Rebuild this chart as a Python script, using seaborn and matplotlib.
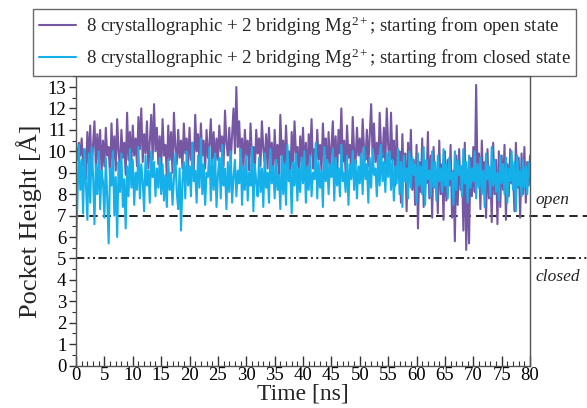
import numpy as np
import pandas as pd
import matplotlib
matplotlib.use("Agg")
import matplotlib.pyplot as plt
import seaborn as sns
from matplotlib.ticker import MultipleLocator

open_state = [
    10.2, 9.6, 10.4, 9.8, 10.6, 9.3, 10.1, 8.7, 10.9, 9.4, 11.2, 8.9, 10.3, 11.4, 9.2, 10.8, 9.6, 11.0, 9.0, 10.5,
    9.3, 11.1, 9.8, 10.2, 8.8, 11.3, 9.5, 10.7, 9.1, 11.5, 10.0, 9.2, 11.0, 9.7, 10.4, 8.9, 11.8, 9.6, 10.9, 9.4,
    11.2, 9.8, 10.6, 9.3, 11.6, 10.1, 12.0, 9.5, 10.8, 9.9, 11.4, 9.2, 10.5, 11.7, 9.6, 12.2, 10.0, 11.1, 9.4, 10.7,
    9.1, 11.5, 9.8, 10.3, 8.8, 11.2, 9.6, 10.9, 9.0, 11.8, 10.2, 9.4, 11.0, 9.7, 10.5, 9.2, 11.3, 9.9, 10.6, 9.3,
    11.1, 9.6, 10.4, 9.1, 11.7, 10.0, 10.8, 9.4, 11.3, 9.8, 10.5, 9.2, 11.0, 9.7, 10.3, 11.5, 9.5, 10.9, 9.3, 10.6,
    9.6, 11.2, 10.0, 10.7, 9.3, 11.9, 10.4, 9.8, 11.1, 9.5, 10.8, 12.0, 9.9, 13.0, 10.2, 11.4, 9.7, 10.6, 9.2, 11.0,
    9.8, 10.5, 9.1, 11.3, 9.7, 10.2, 9.0, 11.0, 9.9, 10.6, 9.3, 11.4, 10.1, 9.5, 10.8, 9.2, 11.1, 9.6, 10.4, 8.9,
    11.0, 9.4, 10.3, 8.7, 11.7, 9.8, 10.5, 9.1, 11.2, 9.6, 10.0, 8.6, 10.9, 9.3, 11.4, 9.9, 10.2, 8.8, 10.7, 9.5,
    11.1, 9.0, 10.4, 8.6, 10.8, 9.7, 11.5, 9.2, 10.1, 8.9, 11.0, 9.6, 10.3, 9.1, 11.3, 9.8, 10.6, 8.7, 10.9, 9.4,
    10.2, 11.4, 9.3, 10.7, 8.8, 11.0, 9.9, 12.0, 9.5, 10.5, 9.0, 11.2, 9.7, 10.3, 8.9, 11.6, 10.0, 9.4, 11.1, 9.8,
    10.6, 9.2, 11.5, 10.1, 9.6, 11.0, 9.3, 10.7, 12.2, 9.9, 11.3, 9.5, 10.4, 9.0, 11.8, 10.2, 9.7, 11.1, 9.4, 12.0,
    10.3, 9.1, 11.8, 9.6, 10.5, 8.4, 11.2, 9.0, 10.0, 7.6, 10.8, 8.7, 9.9, 7.2, 10.4, 8.9, 11.0, 8.2, 9.6, 7.5,
    10.3, 6.4, 9.5, 8.1, 10.6, 7.4, 9.2, 8.5, 10.9, 7.8, 9.8, 6.9, 10.2, 8.3, 9.0, 7.1, 10.5, 8.0, 9.4, 6.8,
    10.0, 7.7, 9.6, 8.4, 10.3, 6.9, 9.1, 5.8, 9.8, 7.5, 10.1, 8.2, 9.3, 6.3, 10.4, 5.4, 9.0, 5.7, 9.7, 7.9,
    10.2, 8.1, 13.1, 8.6, 9.9, 7.3, 10.5, 8.4, 9.5, 6.9, 10.1, 7.8, 9.2, 6.7, 10.4, 8.0, 9.6, 6.6, 10.0, 7.4,
    9.8, 8.2, 10.3, 6.8, 9.4, 7.9, 10.1, 8.5, 9.0, 7.2, 10.4, 8.3, 9.7, 6.9, 9.9, 8.0, 10.2, 7.6, 9.5, 8.4, 9.8,
]
closed_state = [
    5.1, 7.8, 10.3, 8.2, 9.6, 7.1, 10.1, 8.5, 6.8, 9.9, 7.6, 10.2, 8.9, 6.6, 9.4, 8.0, 10.0, 7.3, 9.1, 8.6,
    6.9, 9.7, 7.8, 5.7, 9.2, 8.4, 10.0, 7.0, 8.8, 6.0, 9.5, 8.1, 9.9, 7.4, 8.7, 6.4, 9.3, 7.9, 10.1, 8.3,
    9.6, 7.5, 9.0, 8.2, 10.2, 7.8, 9.4, 8.6, 7.2, 9.8, 8.4, 9.1, 7.6, 10.0, 8.8, 9.5, 7.9, 9.2, 8.3, 9.7,
    8.0, 9.4, 7.7, 8.9, 7.4, 9.6, 8.2, 9.0, 7.5, 8.7, 9.9, 8.1, 7.3, 9.2, 6.3, 8.6, 9.5, 7.8, 10.0, 8.4,
    9.3, 7.9, 10.4, 8.6, 9.1, 7.6, 9.8, 8.3, 10.6, 8.0, 9.4, 7.5, 9.0, 8.8, 10.2, 7.7, 9.6, 8.2, 9.9, 7.4,
    8.9, 9.7, 7.8, 10.3, 8.4, 9.2, 7.3, 9.5, 8.1, 10.0, 7.6, 8.8, 9.6, 7.9, 9.1, 8.5, 10.1, 7.5, 9.3, 8.2,
    9.8, 7.7, 9.0, 8.4, 10.2, 7.2, 9.4, 8.6, 7.9, 9.7, 8.1, 9.2, 7.4, 9.9, 8.3, 9.0, 7.6, 10.1, 8.5, 9.3,
    7.8, 9.6, 8.2, 8.9, 7.3, 9.8, 8.0, 9.4, 7.5, 10.3, 8.6, 9.1, 7.1, 9.5, 8.4, 9.9, 7.7, 9.2, 8.1, 9.7,
    8.5, 10.0, 7.6, 9.3, 8.2, 9.8, 7.9, 9.0, 8.7, 10.4, 7.8, 9.5, 8.3, 9.1, 7.4, 10.2, 8.6, 9.6, 8.0, 9.4,
    8.8, 10.1, 7.7, 9.7, 8.4, 9.2, 7.9, 10.3, 8.6, 9.0, 8.1, 9.8, 7.5, 9.4, 8.7, 10.0, 8.2, 9.6, 7.8, 9.3,
    8.5, 9.9, 8.0, 10.2, 8.7, 9.4, 7.6, 9.7, 8.3, 10.1, 8.9, 9.2, 7.9, 9.8, 8.4, 10.3, 8.6, 9.5, 8.1, 9.9,
    8.8, 10.0, 8.2, 9.6, 7.7, 9.3, 8.5, 10.1, 8.0, 9.5, 7.4, 9.8, 8.6, 9.2, 7.8, 10.0, 8.3, 9.7, 8.9, 9.4,
    7.6, 9.9, 8.4, 9.3, 8.0, 10.2, 7.5, 9.6, 8.7, 9.1, 7.9, 10.0, 8.3, 9.5, 7.7, 9.8, 8.6, 9.2, 8.1, 10.1,
    8.4, 9.4, 7.8, 9.7, 8.7, 9.0, 7.5, 10.0, 8.2, 9.6, 8.9, 9.3, 7.9, 10.1, 8.5, 9.5, 7.6, 9.8, 8.3, 9.2,
    8.6, 10.0, 7.8, 9.4, 8.3, 9.7, 8.0, 9.1, 7.4, 9.9, 8.7, 9.3, 7.9, 10.2, 8.4, 9.6, 8.1, 9.0, 7.7, 9.8,
    8.5, 9.4, 8.0, 9.7, 7.6, 9.2, 8.6, 10.0, 8.2, 9.5, 7.2, 9.8, 8.4, 9.1, 7.9, 9.6, 8.3, 9.3, 8.0, 9.5, 8.8,
]
time_open = np.linspace(0, 80, len(open_state))
time_closed = np.linspace(0, 80, len(closed_state))

state_levels = [7, 5]
state_labels = ["open", "closed"]

label_open = "8 crystallographic + 2 bridging Mg$^{2+}$; starting from open state"
label_closed = "8 crystallographic + 2 bridging Mg$^{2+}$; starting from closed state"

sns.set_theme(style="ticks")
plt.rcParams["font.family"] = ["Liberation Serif", "DejaVu Serif"]
plt.rcParams["mathtext.fontset"] = "custom"
plt.rcParams["mathtext.rm"] = "Liberation Serif"
plt.rcParams["mathtext.it"] = "Liberation Serif:italic"

fig = plt.figure(figsize=(5.87, 4.08), dpi=100)
ax = fig.add_axes([0.1295, 0.104, 0.7735, 0.709])

df_open = pd.DataFrame({"t": time_open, "h": open_state})
df_closed = pd.DataFrame({"t": time_closed, "h": closed_state})

purple = "#7657a3"
cyan = "#15b0ea"
sns.lineplot(data=df_open, x="t", y="h", ax=ax, color=purple, lw=1.5,
             label=label_open, estimator=None, sort=False)
sns.lineplot(data=df_closed, x="t", y="h", ax=ax, color=cyan, lw=1.5,
             label=label_closed, estimator=None, sort=False)

# reference state lines, extended beyond the axes
ax.axhline(state_levels[0], xmin=0, xmax=1.13, color="black", lw=1.2,
           dashes=(5, 3), clip_on=False, zorder=1)
ax.axhline(state_levels[1], xmin=0, xmax=1.13, color="black", lw=1.2,
           dashes=(5, 2, 1.2, 2, 1.2, 2), clip_on=False, zorder=1)
ax.text(1.012, (state_levels[0] + 0.75) / 13.5, state_labels[0], transform=ax.transAxes,
        fontsize=12.5, style="italic", ha="left", va="center")
ax.text(1.012, (state_levels[1] - 0.85) / 13.5, state_labels[1], transform=ax.transAxes,
        fontsize=12.5, style="italic", ha="left", va="center")

ax.set_xlim(0, 80)
ax.set_ylim(0, 13.5)
ax.xaxis.set_major_locator(MultipleLocator(5))
ax.xaxis.set_minor_locator(MultipleLocator(1))
ax.yaxis.set_major_locator(MultipleLocator(1))
ax.yaxis.set_minor_locator(MultipleLocator(0.5))
ax.tick_params(axis="x", which="major", direction="in", length=7, width=1, labelsize=13.5, pad=1,
               colors="#333333", labelcolor="black")
ax.tick_params(axis="x", which="minor", direction="in", length=3.5, width=0.8, colors="#333333")
ax.tick_params(axis="y", which="major", direction="out", length=5, width=1, labelsize=13.5, pad=2,
               colors="#333333", labelcolor="black")
ax.tick_params(axis="y", which="minor", direction="out", length=3, width=0.8, colors="#333333")
for s in ax.spines.values():
    s.set_color("#555555")
    s.set_linewidth(1.0)

ax.set_xlabel("Time [ns]", fontsize=17, labelpad=0)
ax.set_ylabel("Pocket Height [Å]", fontsize=19, labelpad=4)

ax.get_legend().remove()
h, l = ax.get_legend_handles_labels()
leg = fig.legend(h, l, loc="upper left", bbox_to_anchor=(0.056, 0.978), fontsize=13.6,
                 frameon=True, fancybox=False, edgecolor="#444444", borderpad=0.3,
                 handlelength=2.0, handletextpad=0.5, labelspacing=0.45, borderaxespad=0)
leg.get_frame().set_linewidth(1.0)
leg.set_zorder(5)

fig.savefig("out.png", dpi=100, facecolor="white")
